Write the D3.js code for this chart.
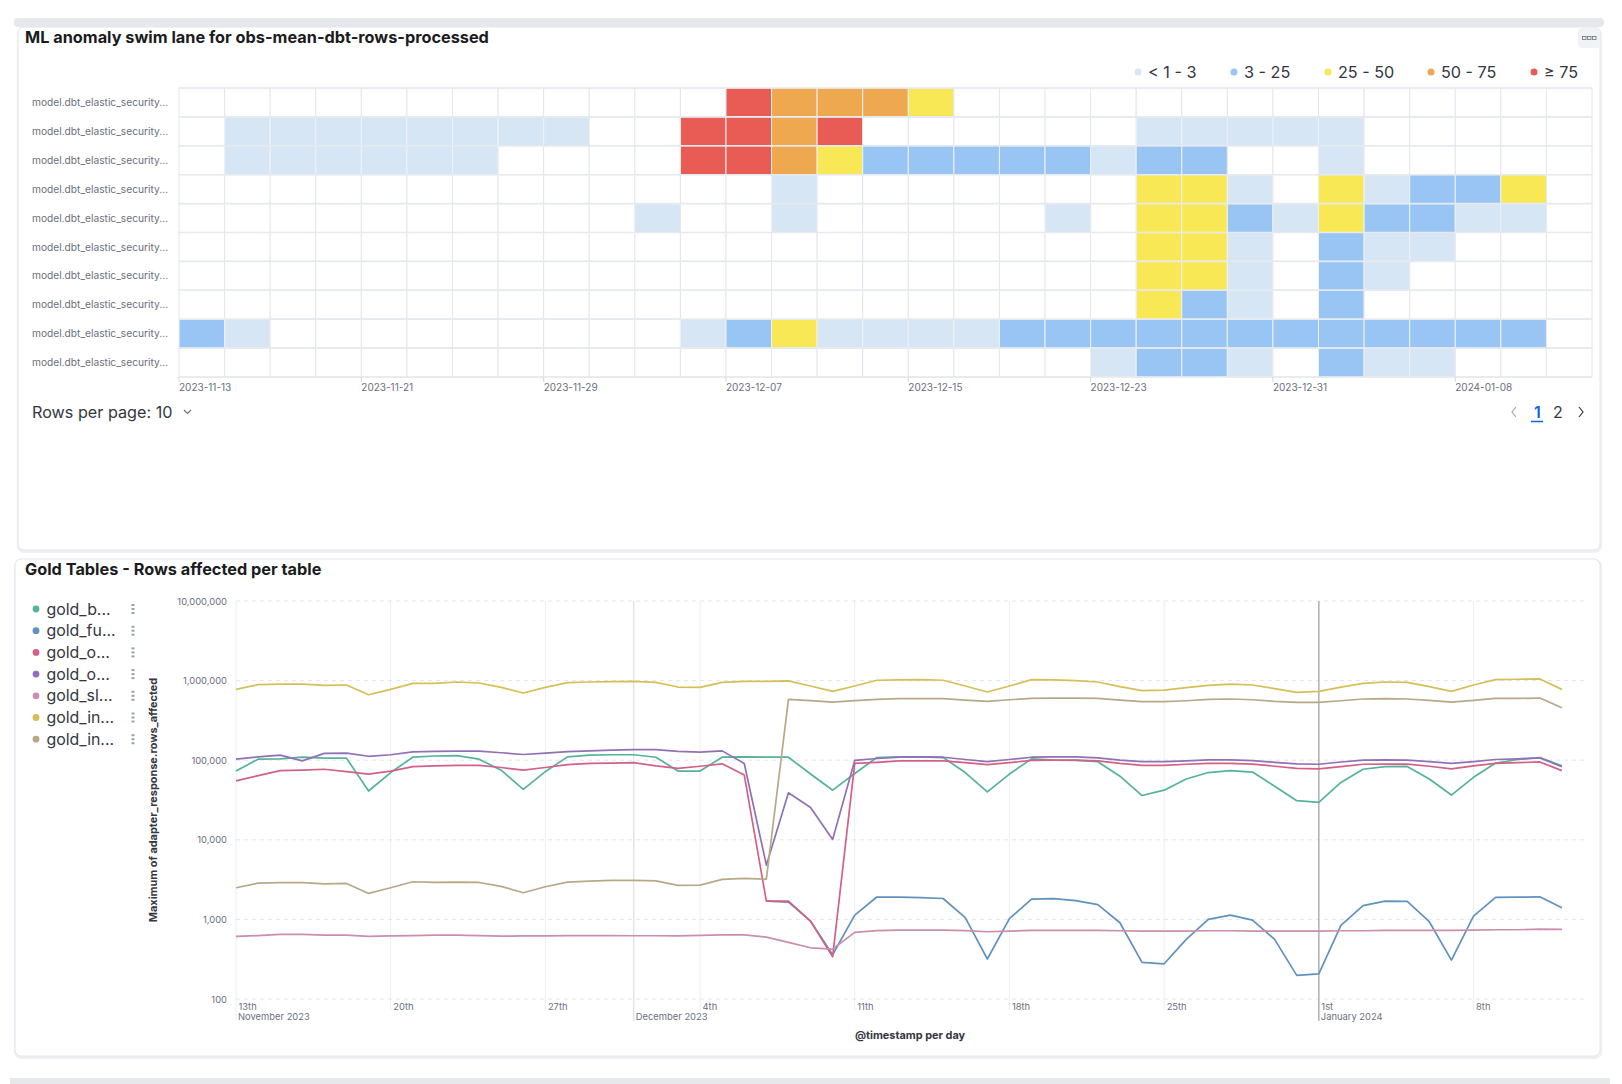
<!DOCTYPE html>
<html>
<head>
<meta charset="utf-8">
<script src="https://cdn.jsdelivr.net/npm/d3@7"></script>
<style>
body{margin:0;background:#fff;font-family:Inter,"Noto Sans",sans-serif}
svg{display:block}
</style>
</head>
<body>
<script>
// ---------- swim lane data (anomaly score per 2-day bucket, 0 = none) ----------
var laneLabels=["model.dbt_elastic_security...","model.dbt_elastic_security...","model.dbt_elastic_security...","model.dbt_elastic_security...","model.dbt_elastic_security...","model.dbt_elastic_security...","model.dbt_elastic_security...","model.dbt_elastic_security...","model.dbt_elastic_security...","model.dbt_elastic_security..."]
var lane0=[0,0,0,0,0,0,0,0,0,0,0,0,85,60,60,60,35,0,0,0,0,0,0,0,0,0,0,0,0,0,0]
var lane1=[0,2,2,2,2,2,2,2,2,0,0,85,85,60,85,0,0,0,0,0,0,2,2,2,2,2,0,0,0,0,0]
var lane2=[0,2,2,2,2,2,2,0,0,0,0,85,85,60,35,10,10,10,10,10,2,10,10,0,0,2,0,0,0,0,0]
var lane3=[0,0,0,0,0,0,0,0,0,0,0,0,0,2,0,0,0,0,0,0,0,35,35,2,0,35,2,10,10,35,0]
var lane4=[0,0,0,0,0,0,0,0,0,0,2,0,0,2,0,0,0,0,0,2,0,35,35,10,2,35,10,10,2,2,0]
var lane5=[0,0,0,0,0,0,0,0,0,0,0,0,0,0,0,0,0,0,0,0,0,35,35,2,0,10,2,2,0,0,0]
var lane6=[0,0,0,0,0,0,0,0,0,0,0,0,0,0,0,0,0,0,0,0,0,35,35,2,0,10,2,0,0,0,0]
var lane7=[0,0,0,0,0,0,0,0,0,0,0,0,0,0,0,0,0,0,0,0,0,35,10,2,0,10,0,0,0,0,0]
var lane8=[10,2,0,0,0,0,0,0,0,0,0,2,10,35,2,2,2,2,10,10,10,10,10,10,10,10,10,10,10,10,0]
var lane9=[0,0,0,0,0,0,0,0,0,0,0,0,0,0,0,0,0,0,0,0,2,10,10,2,0,10,2,2,0,0,0]
var lanes=[lane0,lane1,lane2,lane3,lane4,lane5,lane6,lane7,lane8,lane9]
var laneTickCols=[0,4,8,12,16,20,24,28]
var laneTickLabels=["2023-11-13","2023-11-21","2023-11-29","2023-12-07","2023-12-15","2023-12-23","2023-12-31","2024-01-08"]
var sevLabels=["< 1 - 3","3 - 25","25 - 50","50 - 75","\u2265 75"]
var sevColors=["#d6e6f4","#98c5f4","#f8e855","#eda850","#e95c55"]

// ---------- line chart data (daily max rows affected, 2023-11-13 .. 2024-01-12) ----------
var seriesNames=["gold_b...","gold_fu...","gold_o...","gold_o...","gold_sl...","gold_in...","gold_in..."]
var seriesColors=["#54b399","#6092c0","#d36086","#9170b8","#ca8eae","#d6bf57","#b9a888"]
var goldB=[73000,103000,104000,109000,106000,106000,41000,70000,109000,113000,114000,103000,75000,43000,72000,110000,116000,117000,
  117000,109000,73000,73000,109000,110000,109000,109000,67000,42000,68000,108000,110000,110000,108000,70000,40000,67000,104000,100000,99500,95700,63000,36000,42000,58000,70000,74000,71000,47000,31000,
  29500,52600,77000,83000,83500,58000,36500,61000,92000,102000,108000,85000]
var goldFu=[null,null,null,null,null,null,null,null,null,null,null,null,null,null,null,null,null,null,
  null,null,null,null,null,null,1700,1650,950,360,1130,1910,1900,1880,1830,1050,318,1020,1800,1820,1720,1530,908,288,277,561,1000,1130,981,561,198,
  207,840,1490,1700,1680,935,308,1100,1890,1900,1920,1400]
var goldO1=[55000,64000,74000,75000,77000,72000,67000,73000,83000,85000,86000,86000,81000,75000,81000,88000,91000,92000,
  93000,85000,79000,84000,90000,65000,1700,1700,950,340,91000,94000,98000,98000,98000,93000,88000,93000,99500,100000,100000,98000,91000,86000,86000,89000,91000,91000,89500,84000,79000,
  78000,83000,89000,89500,89500,84000,78000,85000,91000,93000,95000,74000]
var goldO2=[103000,110000,116000,98000,122000,123000,112000,117000,127000,129000,130000,130000,124000,118000,123000,128000,131000,134000,
  136000,136000,129000,126000,131000,91000,4800,39000,25500,10100,99500,105000,109000,110000,109000,102000,96000,102000,109000,110000,110000,107000,100000,96000,96000,98000,101000,101000,99000,94000,90000,
  89000,95000,100000,101000,100000,96000,91000,96000,102000,104000,107000,83000]
var goldSl=[611,625,648,648,636,636,611,620,625,636,636,625,615,620,620,625,625,625,
  623,623,620,630,640,640,600,514,440,424,687,721,735,735,735,721,700,713,728,728,728,728,720,713,713,713,720,720,713,713,713,
  713,720,720,728,728,728,728,735,741,741,755,748]
var goldIn1=[776000,889000,902000,902000,871000,880000,665000,776000,924000,924000,960000,933000,822000,698000,822000,942000,960000,970000,
  980000,951000,830000,822000,951000,980000,980000,990000,855000,733000,855000,1010000,1020000,1030000,1010000,855000,720000,855000,1030000,1020000,1000000,960000,840000,747000,761000,815000,872000,902000,880000,794000,711000,
  733000,830000,924000,960000,951000,840000,733000,880000,1030000,1040000,1050000,776000]
var goldIn2=[2500,2860,2890,2890,2800,2830,2120,2500,2970,2910,2940,2910,2600,2160,2570,2940,3030,3090,
  3100,3050,2670,2700,3180,3270,3200,581000,560000,538000,560000,581000,593000,593000,593000,570000,548000,575000,597000,604000,604000,598000,570000,543000,543000,558000,581000,587000,575000,548000,533000,
  533000,558000,587000,593000,587000,564000,538000,564000,598000,598000,604000,457000]
var seriesValues=[goldB,goldFu,goldO1,goldO2,goldSl,goldIn1,goldIn2]
var yTickValues=[100,1000,10000,100000,1000000,10000000]
var monthStarts=[new Date(2023,10,13),new Date(2023,11,1),new Date(2024,0,1)]
var monthLabels=["November 2023","December 2023","January 2024"]

var textDark="#343741", textGray="#69707d"
var svg=d3.select("body").append("svg").attr("width",1622).attr("height",1084)

// ---------- page chrome ----------
svg.append("rect").attr("x",14).attr("y",18).attr("width",1590).attr("height",9).attr("rx",4).attr("fill","#e6e8ec")
svg.append("rect").attr("x",10).attr("y",1078).attr("width",1600).attr("height",8).attr("fill","#e6e8ec")
function panel(x,y,w,h){
  svg.append("rect").attr("x",x-1).attr("y",y).attr("width",w+3).attr("height",h+3).attr("rx",7).attr("fill","#eef0f3")
  svg.append("rect").attr("x",x).attr("y",y).attr("width",w).attr("height",h).attr("rx",6).attr("fill","#fff").attr("stroke","#e3e6eb")
}
panel(18,27,1582,523)
panel(15,559,1585,497)

// ---------- swim lane ----------
svg.append("text").attr("x",25).attr("y",42.5).attr("font-size",16.3).attr("font-weight",700).attr("fill","#1a1c21")
   .text("ML anomaly swim lane for obs-mean-dbt-rows-processed")
var btn=svg.append("g").attr("transform","translate(1578,28)")
btn.append("rect").attr("width",22).attr("height",20).attr("rx",4).attr("fill","#f1f2f5")
btn.selectAll("rect.sq").data([0,1,2]).enter().append("rect").attr("class","sq")
   .attr("x",function(d){return 4.5+d*5}).attr("y",8.5).attr("width",3.5).attr("height",3).attr("fill","none").attr("stroke","#69707d").attr("stroke-width",0.8)

var legX=[1138,1234,1328,1431,1534]
var leg=svg.append("g").selectAll("g").data(sevLabels).enter().append("g")
   .attr("transform",function(d,i){return "translate("+legX[i]+",72)"})
leg.append("circle").attr("r",3.5).attr("fill",function(d,i){return sevColors[i]})
leg.append("text").attr("x",10).attr("y",5.8).attr("font-size",16.2).attr("fill",textDark).text(function(d){return d})

var colIdx=d3.range(lanes[0].length)
var xLane=d3.scaleBand().domain(colIdx).range([179,1592])
var yLane=d3.scaleBand().domain(d3.range(lanes.length)).range([88,377])
var sev=d3.scaleThreshold().domain([3,25,50,75]).range(sevColors)
var cells=[]
lanes.forEach(function(row,r){row.forEach(function(v,c){cells.push({r:r,c:c,v:v})})})
svg.append("g").selectAll("rect").data(cells).enter().append("rect")
   .attr("x",function(d){return xLane(d.c)}).attr("y",function(d){return yLane(d.r)})
   .attr("width",xLane.bandwidth()).attr("height",yLane.bandwidth())
   .attr("fill",function(d){return d.v>0?sev(d.v):"#fff"})
   .attr("stroke",function(d){return d.v>0?"#eef1f6":"#e3e6ec"}).attr("stroke-width",1)
svg.append("g").selectAll("line").data(d3.range(lanes.length+1)).enter().append("line")
   .attr("x1",179).attr("x2",1592)
   .attr("y1",function(d){return 88+d*yLane.step()}).attr("y2",function(d){return 88+d*yLane.step()})
   .attr("stroke","#e6e9ee").attr("stroke-width",1.6)
svg.append("g").selectAll("text").data(laneLabels).enter().append("text")
   .attr("x",32).attr("y",function(d,i){return yLane(i)+yLane.bandwidth()/2+3.6})
   .attr("font-size",10.2).attr("fill",textGray).text(function(d){return d})
var lt=svg.append("g").selectAll("g").data(laneTickCols).enter().append("g")
   .attr("transform",function(d){return "translate("+xLane(d)+",377)"})
lt.append("line").attr("y1",0).attr("y2",5).attr("stroke","#d3d6dc")
lt.append("text").attr("x",0).attr("y",14).attr("font-size",10).attr("fill",textGray)
   .text(function(d,i){return laneTickLabels[i]})

svg.append("text").attr("x",32).attr("y",417.5).attr("font-size",16.2).attr("fill",textDark).text("Rows per page: 10")
svg.append("path").attr("d","M184,410 l3.5,3.5 l3.5,-3.5").attr("fill","none").attr("stroke",textGray).attr("stroke-width",1.1)
svg.append("path").attr("d","M1516,407 l-4,5 l4,5").attr("fill","none").attr("stroke","#a2a6ae").attr("stroke-width",1.2)
svg.append("text").attr("x",1534).attr("y",417.5).attr("font-size",16).attr("font-weight",600).attr("fill","#0b64dd").text("1")
svg.append("line").attr("x1",1531).attr("x2",1543).attr("y1",421.5).attr("y2",421.5).attr("stroke","#0b64dd").attr("stroke-width",1.5)
svg.append("text").attr("x",1553).attr("y",417.5).attr("font-size",16).attr("fill",textDark).text("2")
svg.append("path").attr("d","M1579,407 l4,5 l-4,5").attr("fill","none").attr("stroke",textDark).attr("stroke-width",1.2)

// ---------- line chart ----------
svg.append("text").attr("x",25).attr("y",574.5).attr("font-size",16.3).attr("font-weight",700).attr("fill","#1a1c21")
   .text("Gold Tables - Rows affected per table")

var days=d3.timeDay.range(new Date(2023,10,13),new Date(2024,0,13))
var x=d3.scaleTime().domain([new Date(2023,10,13),new Date(2024,0,13)]).range([236,1584])
var y=d3.scaleLog().domain([100,10000000]).range([999,601])

var lg=svg.append("g").selectAll("g").data(seriesNames).enter().append("g")
   .attr("transform",function(d,i){return "translate(36,"+(609+i*21.7)+")"})
lg.append("circle").attr("r",3.4).attr("fill",function(d,i){return seriesColors[i]})
lg.append("text").attr("x",10.5).attr("y",5.6).attr("font-size",15.9).attr("fill",textDark).text(function(d){return d})
lg.selectAll("rect").data([-4,0,4]).enter().append("rect")
   .attr("x",95.5).attr("y",function(d){return d-1}).attr("width",3).attr("height",2).attr("fill","#98a2b3")

// grid
var weeks=d3.timeMonday.range(new Date(2023,10,13),new Date(2024,0,13))
svg.append("g").selectAll("line").data(weeks).enter().append("line")
   .attr("x1",function(d){return x(d)}).attr("x2",function(d){return x(d)})
   .attr("y1",601).attr("y2",function(d,i){return i==0?1020:1010}).attr("stroke","#eceef1")
svg.append("g").selectAll("line").data(yTickValues).enter().append("line")
   .attr("x1",236).attr("x2",1584).attr("y1",function(d){return y(d)}).attr("y2",function(d){return y(d)})
   .attr("stroke","#e3e6ea").attr("stroke-dasharray","4,4")
svg.append("g").selectAll("line").data(monthStarts.slice(1)).enter().append("line")
   .attr("x1",function(d){return x(d)}).attr("x2",function(d){return x(d)})
   .attr("y1",601).attr("y2",1021)
   .attr("stroke",function(d,i){return i==0?"#d5d8dd":"#a9acb1"}).attr("stroke-width",function(d,i){return i==0?1:1.4})

// axes labels
var yAxis=d3.axisLeft(y).tickValues(yTickValues).tickFormat(d3.format(",")).tickSize(0).tickPadding(0)
var ya=svg.append("g").attr("transform","translate(227,0)").call(yAxis)
ya.select(".domain").remove()
ya.selectAll("text").attr("font-size",9.4).attr("fill",textGray).attr("font-family","Inter")

function ordinal(d){
  var n=d.getDate(),m=n%100
  var s=(m>10&&m<14)?"th":(n%10==1?"st":n%10==2?"nd":n%10==3?"rd":"th")
  return n+s
}
var xAxis=d3.axisBottom(x).tickValues(weeks).tickFormat(ordinal).tickSize(0).tickPadding(0)
var xa=svg.append("g").attr("transform","translate(0,1000)").call(xAxis)
xa.select(".domain").remove()
xa.selectAll("text").attr("text-anchor","start").attr("dx",2).attr("dy",0).attr("y",9.5)
  .attr("font-size",9.4).attr("fill",textGray).attr("font-family","Inter")
svg.append("g").selectAll("text").data(monthStarts).enter().append("text")
   .attr("x",function(d){return x(d)+2}).attr("y",1019.5).attr("font-size",9.4).attr("fill",textGray)
   .text(function(d,i){return monthLabels[i]})

svg.append("text").attr("transform","translate(157,800) rotate(-90)").attr("text-anchor","middle")
   .attr("font-size",10.9).attr("font-weight",700).attr("fill",textDark)
   .text("Maximum of adapter_response.rows_affected")
svg.append("text").attr("x",910).attr("y",1039).attr("text-anchor","middle")
   .attr("font-size",10.9).attr("font-weight",700).attr("fill",textDark).text("@timestamp per day")

// lines
var line=d3.line().defined(function(d){return d.v!=null}).x(function(d){return x(d.t)}).y(function(d){return y(d.v)})
svg.append("g").selectAll("path").data(seriesValues).enter().append("path")
   .attr("d",function(vals){return line(vals.map(function(v,i){return {t:days[i],v:v}}))})
   .attr("fill","none").attr("stroke",function(d,i){return seriesColors[i]}).attr("stroke-width",1.7)
   .attr("stroke-linejoin","round")
</script>
</body>
</html>
